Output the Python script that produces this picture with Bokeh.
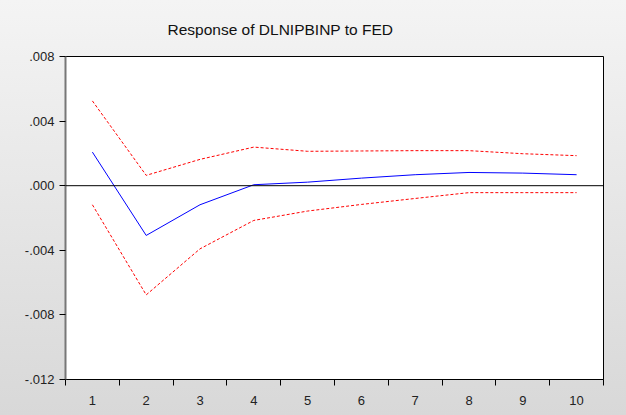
from bokeh.plotting import figure
from bokeh.models import FixedTicker, Span, Range1d
from bokeh.embed import file_html
from bokeh.resources import INLINE

periods = [1, 2, 3, 4, 5, 6, 7, 8, 9, 10]
response = [0.00208, -0.00308, -0.00118, 0.00006, 0.00022, 0.00047, 0.00068, 0.00082, 0.00078, 0.00068]
upper = [0.00525, 0.00064, 0.00163, 0.00239, 0.00213, 0.00215, 0.00217, 0.00217, 0.00198, 0.00186]
lower = [-0.00118, -0.00676, -0.00391, -0.00215, -0.00157, -0.00116, -0.00079, -0.00043, -0.00043, -0.00043]
y_ticks = [0.008, 0.004, 0.0, -0.004, -0.008, -0.012]
y_tick_labels = [".008", ".004", ".000", "-.004", "-.008", "-.012"]
title_text = "Response of DLNIPBINP to FED"

FONT = "Liberation Sans"

p = figure(width=626, height=415, output_backend="svg", toolbar_location=None,
           x_range=Range1d(0.5, 10.5), y_range=Range1d(-0.012, 0.008),
           min_border_left=65, min_border_right=23, min_border_top=56, min_border_bottom=36)

p.title.text = title_text
p.title.text_font = FONT
p.title.text_font_size = "15.5px"
p.title.text_font_style = "normal"
p.title.align = "left"
p.title.offset = 102
p.title.standoff = 37
p.title.text_color = "#111111"

p.border_fill_alpha = 0
p.styles = {"background": "linear-gradient(to bottom, #f4f4f4, #d8d8d8)"}
p.background_fill_color = "white"
p.outline_line_color = "black"
p.outline_line_width = 1
p.xgrid.visible = False
p.ygrid.visible = False

# y axis
p.yaxis.ticker = FixedTicker(ticks=y_ticks, minor_ticks=[])
p.yaxis.major_label_overrides = {t: l for t, l in zip(y_ticks, y_tick_labels)}
p.yaxis.major_tick_in = 0
p.yaxis.major_tick_out = 6
p.yaxis.minor_tick_in = 0
p.yaxis.minor_tick_out = 0
p.yaxis.axis_line_color = "#777777"
p.yaxis.axis_line_width = 2
p.yaxis.major_label_text_font = FONT
p.yaxis.major_label_text_font_size = "13px"
p.yaxis.major_label_text_color = "#222222"
p.yaxis.major_label_standoff = 5

# x axis
bounds = [i + 0.5 for i in range(0, 11)]
p.xaxis.ticker = FixedTicker(ticks=periods, minor_ticks=bounds)
p.xaxis.major_label_overrides = {t: str(t) for t in periods}
p.xaxis.major_tick_in = 0
p.xaxis.major_tick_out = 0
p.xaxis.minor_tick_in = 0
p.xaxis.minor_tick_out = 6
p.xaxis.minor_tick_line_color = "black"
p.xaxis.axis_line_color = "black"
p.xaxis.major_label_text_font = FONT
p.xaxis.major_label_text_font_size = "13px"
p.xaxis.major_label_text_color = "#222222"
p.xaxis.major_label_standoff = 10

p.add_layout(Span(location=0, dimension="width", line_color="black", line_width=1))

p.line(periods, upper, line_color="#ff0000", line_width=1, line_dash="3 2")
p.line(periods, lower, line_color="#ff0000", line_width=1, line_dash="3 2")
p.line(periods, response, line_color="#0000ff", line_width=1)

open("out.html", "w").write(file_html(p, INLINE))
